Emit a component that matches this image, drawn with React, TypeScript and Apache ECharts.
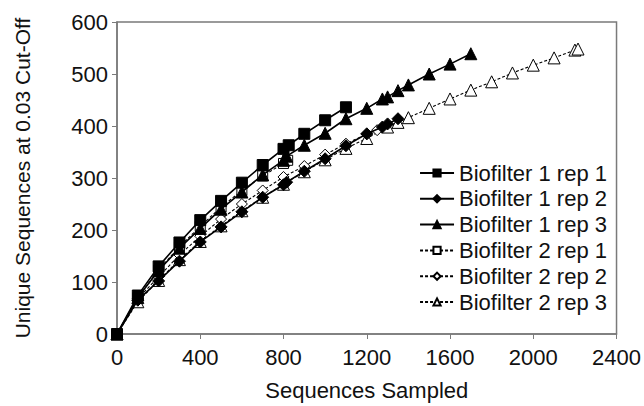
import React, { useEffect, useRef } from "react";
import * as echarts from "echarts";

const xTicks = [0, 400, 800, 1200, 1600, 2000, 2400];
const yTicks = [0, 100, 200, 300, 400, 500, 600];

const seriesNames = [
  "Biofilter 1 rep 1",
  "Biofilter 1 rep 2",
  "Biofilter 1 rep 3",
  "Biofilter 2 rep 1",
  "Biofilter 2 rep 2",
  "Biofilter 2 rep 3",
];

const b1r1X = [0, 100, 200, 300, 400, 500, 600, 700, 800, 825, 900, 1000, 1100];
const b1r1Y = [0, 74, 130, 176, 219, 256, 291, 325, 356, 363, 385, 411, 436];

const b1r2X = [0, 100, 200, 300, 400, 500, 600, 700, 800, 815, 900, 1000, 1100, 1200, 1275, 1300, 1350];
const b1r2Y = [0, 65, 102, 140, 177, 206, 235, 263, 287, 292, 313, 337, 362, 385, 398, 404, 414];

const b1r3X = [0, 100, 200, 300, 400, 500, 600, 700, 800, 815, 900, 1000, 1100, 1200, 1275, 1300, 1350, 1400, 1500, 1600, 1700];
const b1r3Y = [0, 70, 122, 165, 203, 240, 273, 306, 334, 342, 363, 386, 414, 434, 452, 456, 468, 479, 500, 519, 539];

const b2r1X = [0, 100, 200, 300, 400, 500, 600, 700, 800, 820];
const b2r1Y = [0, 70, 123, 168, 207, 244, 276, 304, 328, 334];

const b2r2X = [0, 100, 200, 300, 400, 500, 600, 700, 800, 900, 1000, 1100, 1200, 1250];
const b2r2Y = [0, 68, 110, 152, 188, 221, 250, 276, 302, 323, 345, 366, 384, 392];

const b2r3X = [0, 100, 200, 300, 400, 500, 600, 700, 800, 900, 1000, 1100, 1200, 1300, 1350, 1400, 1500, 1600, 1700, 1800, 1900, 2000, 2100, 2200, 2215];
const b2r3Y = [0, 62, 103, 143, 178, 208, 237, 263, 288, 312, 335, 357, 376, 398, 407, 416, 434, 452, 469, 485, 502, 517, 531, 546, 548];

const zip = (xs: number[], ys: number[]) => xs.map((x, i) => [x, ys[i]]);

const FONT = "'Liberation Sans', Arial, sans-serif";
const TXT = "#111";
const AXIS = "#7a7a7a";

export default function App() {
  const ref = useRef<HTMLDivElement>(null);
  useEffect(() => {
    if (!ref.current) return;
    const chart = echarts.init(ref.current, undefined, { renderer: "svg" });
    const solid = { color: "#000", width: 1.6, type: "solid" as const };
    const dashed = { color: "#000", width: 1.1, type: [3, 2] as any };
    const filled = { color: "#000", borderColor: "#000", borderWidth: 1 };
    const open = { color: "#fff", borderColor: "#000", borderWidth: 1 };
    const defs = [
      { d: zip(b1r1X, b1r1Y), sym: "rect", size: 11, line: solid, item: filled },
      { d: zip(b1r2X, b1r2Y), sym: "diamond", size: 12, line: solid, item: filled },
      { d: zip(b1r3X, b1r3Y), sym: "triangle", size: 12, line: solid, item: filled },
      { d: zip(b2r1X, b2r1Y), sym: "rect", size: 10, line: dashed, item: open },
      { d: zip(b2r2X, b2r2Y), sym: "diamond", size: 11, line: dashed, item: open },
      { d: zip(b2r3X, b2r3Y), sym: "triangle", size: 12, line: dashed, item: open },
    ];
    chart.setOption({
      animation: false,
      backgroundColor: "#fff",
      textStyle: { fontFamily: FONT },
      grid: { left: 117, top: 22, right: 23, bottom: 72, show: true, borderColor: AXIS, borderWidth: 1.5, backgroundColor: "transparent" },
      legend: {
        data: seriesNames,
        orient: "vertical",
        right: 37,
        top: 162,
        padding: 0,
        itemGap: 3.8,
        itemWidth: 34,
        itemHeight: 9,
        textStyle: { fontSize: 22, color: TXT, fontFamily: FONT, lineHeight: 22 },
      },
      xAxis: {
        type: "value",
        min: xTicks[0],
        max: xTicks[xTicks.length - 1],
        interval: 400,
        name: "Sequences Sampled",
        nameLocation: "middle",
        nameGap: 45,
        nameTextStyle: { fontSize: 22, color: TXT, fontFamily: FONT },
        axisLine: { lineStyle: { color: AXIS, width: 1.5 } },
        axisTick: { show: true, inside: false, length: 5, lineStyle: { color: AXIS } },
        axisLabel: { fontSize: 22, color: TXT, margin: 12, fontFamily: FONT, formatter: (v: number) => String(v) },
        splitLine: { show: false },
      },
      yAxis: {
        type: "value",
        min: yTicks[0],
        max: yTicks[yTicks.length - 1],
        interval: 100,
        name: "Unique Sequences at 0.03 Cut-Off",
        nameLocation: "middle",
        nameGap: 84,
        nameTextStyle: { fontSize: 21, color: TXT, fontFamily: FONT },
        axisLine: { show: true, lineStyle: { color: AXIS, width: 1.5 } },
        axisTick: { show: true, inside: false, length: 5, lineStyle: { color: AXIS } },
        axisLabel: { fontSize: 22, color: TXT, margin: 9, fontFamily: FONT, formatter: (v: number) => String(v) },
        splitLine: { show: false },
      },
      series: defs.map((s, i) => ({
        name: seriesNames[i],
        type: "line",
        data: s.d,
        symbol: s.sym,
        symbolSize: s.size,
        showSymbol: true,
        lineStyle: s.line,
        itemStyle: s.item,
        z: 10 - i,
      })),
    });
    return () => chart.dispose();
  }, []);
  return <div ref={ref} style={{ width: 644, height: 406, position: "absolute", left: 0, top: 0 }} />;
}
